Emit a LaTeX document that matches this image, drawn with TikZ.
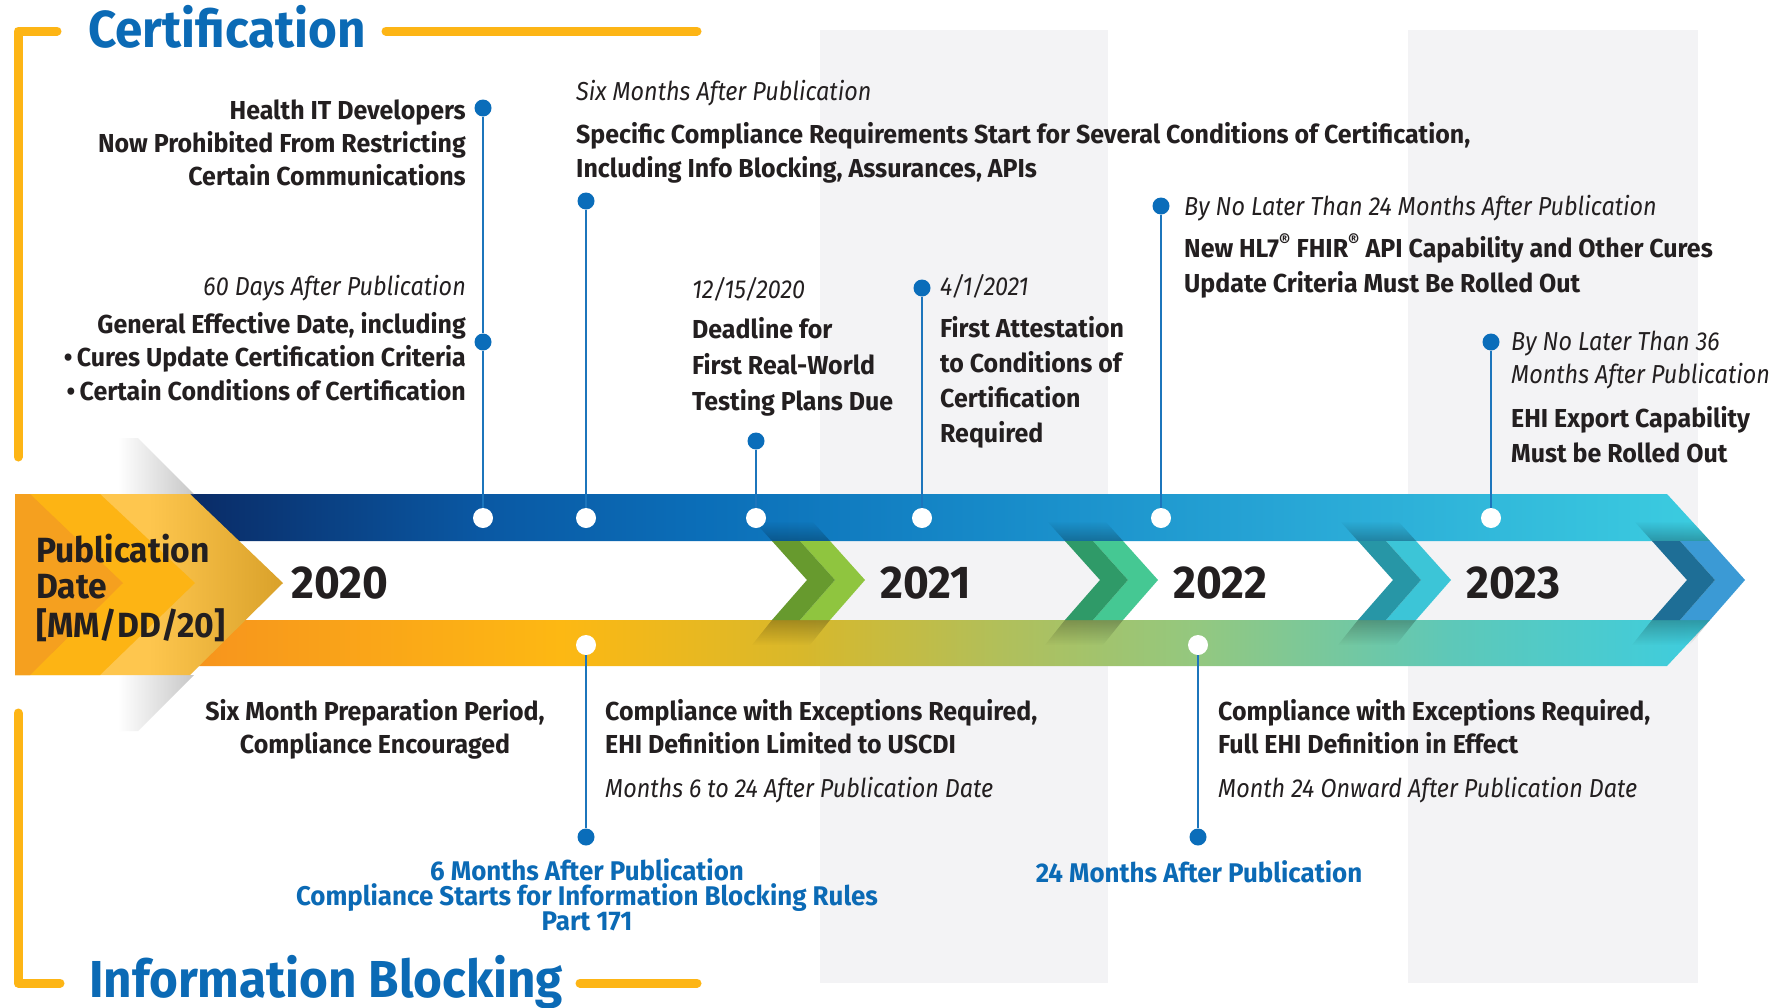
\documentclass[tikz,border=0pt]{standalone}
\usepackage{fontspec}
\setmainfont{Fira Sans}[FakeStretch=0.9, BoldFeatures={FakeStretch=0.96}]
\newfontfamily\titlefont{Fira Sans}[FakeStretch=0.95]
\usetikzlibrary{fadings}
\definecolor{txt}{HTML}{231F20}
\definecolor{ttlblue}{HTML}{0B6AB5}
\definecolor{stem}{HTML}{1C75BC}
\definecolor{dotblue}{HTML}{0A6DBA}
\definecolor{orng}{HTML}{FDB515}
\definecolor{stripe}{HTML}{F3F3F5}
\definecolor{pubL}{HTML}{F5A01F}
\definecolor{pubM}{HTML}{FDB414}
\definecolor{pubR}{HTML}{FEC64E}
\definecolor{pubTip}{HTML}{D9A12A}
\definecolor{g1d}{HTML}{679A2E}
\definecolor{g1l}{HTML}{8FC53F}
\definecolor{g2d}{HTML}{2F9A68}
\definecolor{g2l}{HTML}{45C893}
\definecolor{g3d}{HTML}{2796A6}
\definecolor{g3l}{HTML}{3CC5D7}
\definecolor{g4d}{HTML}{1E6E96}
\definecolor{g4l}{HTML}{3B9AD5}
\definecolor{tb0}{HTML}{0A2B66}
\definecolor{tb1}{HTML}{0A58A3}
\definecolor{tb2}{HTML}{0B6EB8}
\definecolor{tb3}{HTML}{178BC9}
\definecolor{tb4}{HTML}{28A7D6}
\definecolor{tb5}{HTML}{3CCDE0}
\definecolor{bb0}{HTML}{F7941D}
\definecolor{bb1}{HTML}{FDB813}
\definecolor{bb2}{HTML}{D8B82B}
\definecolor{bb3}{HTML}{B1BF5A}
\definecolor{bb4}{HTML}{93C880}
\definecolor{bb5}{HTML}{5EC8B8}
\definecolor{bb6}{HTML}{3CCDE0}
\pgfdeclarehorizontalshading{topband}{100bp}{color(0bp)=(tb0); color(25bp)=(tb0); color(34.5bp)=(tb1); color(41.8bp)=(tb2); color(51.6bp)=(tb3); color(61.5bp)=(tb4); color(75bp)=(tb5); color(100bp)=(tb5)}
\pgfdeclarehorizontalshading{botband}{100bp}{color(0bp)=(bb0); color(25bp)=(bb0); color(37.2bp)=(bb1); color(45.1bp)=(bb2); color(51.6bp)=(bb3); color(58.2bp)=(bb4); color(66.4bp)=(bb5); color(75bp)=(bb6); color(100bp)=(bb6)}
\pgfdeclarehorizontalshading{pubshade}{100bp}{color(0bp)=(pubR); color(50bp)=(pubR); color(75bp)=(pubTip); color(100bp)=(pubTip)}
\newcommand{\mylines}[2]{\begin{tabular}[t]{@{}#1@{}}#2\end{tabular}}
\newcommand{\yearchev}[3]{%
  \fill[black,opacity=0.25,path fading=north] (#1-111,521) -- (#1-53,521) -- (#1-35,541) -- (#1-93,541) -- cycle;
  \fill[black,opacity=0.25,path fading=south] (#1-93,620) -- (#1-35,620) -- (#1-55,645) -- (#1-113,645) -- cycle;
  \fill[#3] (#1-65,541) -- (#1-35,541) -- (#1,580) -- (#1-35,620) -- (#1-65,620) -- (#1-30,580) -- cycle;
  \fill[#2] (#1-93,541) -- (#1-65,541) -- (#1-30,580) -- (#1-65,620) -- (#1-93,620) -- (#1-58,580) -- cycle;
}
\tikzset{
  bracket/.style={orng, line width=9pt, line cap=round, line join=round},
  ttl/.style={inner sep=0pt, text=ttlblue, font=\titlefont\bfseries\fontsize{52}{52}\selectfont},
  lbl/.style={inner sep=0pt, text=txt, font=\bfseries\fontsize{26}{#1}\selectfont},
  lbl/.default=33,
  itl/.style={inner sep=0pt, text=txt, font=\itshape\fontsize{26}{#1}\selectfont},
  itl/.default=33,
  bluelbl/.style={inner sep=0pt, text=ttlblue, font=\bfseries\fontsize{27}{27}\selectfont},
  yearlbl/.style={inner sep=0pt, text=txt, font=\bfseries\fontsize{46}{46}\selectfont},
  bdot/.style={circle, fill=dotblue, inner sep=0pt, minimum size=17pt},
  wdot/.style={circle, fill=white, inner sep=0pt, minimum size=20pt},
  stemline/.style={stem, line width=2.4pt}
}
\begin{document}
\begin{tikzpicture}[x=1pt,y=-1pt]
\useasboundingbox (0,0) rectangle (1778,1007);
\fill[white] (0,0) rectangle (1778,1007);
% background stripes
\fill[stripe] (820,30) rectangle (1108,983);
\fill[stripe] (1408,30) rectangle (1698,983);
% brackets
\draw[bracket] (57,31) -- (18,31) -- (18,457);
\draw[bracket] (18,713) -- (18,983) -- (60,983);
\draw[bracket] (386,31) -- (697,31);
\draw[bracket] (580,983) -- (697,983);
% titles
\node[ttl, anchor=base west] (cert) at (88,47) {Certification};
\node[ttl, anchor=base west] (infob) at (89,997) {Information Blocking};
% bands
\shade[shading=topband] (190,494) -- (1667,494) -- (1710,541) -- (190,541) -- cycle;
\shade[shading=botband] (190,620) -- (1710,620) -- (1667,666) -- (190,666) -- cycle;
% chevrons
\yearchev{865}{g1d}{g1l}
\yearchev{1158}{g2d}{g2l}
\yearchev{1451}{g3d}{g3l}
\yearchev{1745}{g4d}{g4l}
% publication block shadows
\shade[left color=white, right color=black!22] (118,438) -- (138,438) -- (194,494) -- (118,494) -- cycle;
\shade[left color=white, right color=black!22] (118,675) -- (194,675) -- (138,731) -- (118,731) -- cycle;
% publication block
\shade[shading=pubshade] (15,494) -- (190,494) -- (283,583) -- (190,675) -- (15,675) -- cycle;
\fill[pubM] (15,494) -- (100,494) -- (195,583) -- (100,675) -- (15,675) -- cycle;
\fill[pubL] (15,494) -- (30,494) -- (123,583) -- (30,675) -- (15,675) -- cycle;
\node[inner sep=0pt, text=txt, font=\bfseries\fontsize{35}{36}\selectfont, anchor=base west] (pub) at (36,562) {\mylines{l}{Publication\\Date\\{}[MM/DD/20]}};
% years
\node[yearlbl, anchor=base west] (y2020) at (291,598) {2020};
\node[yearlbl, anchor=base west] (y2021) at (880,598) {2021};
\node[yearlbl, anchor=base west] (y2022) at (1173,598) {2022};
\node[yearlbl, anchor=base west] (y2023) at (1466,598) {2023};
% dots and stems (top)
\node[bdot] (b1) at (483,108) {};
\node[bdot] (b2) at (483,342) {};
\node[wdot] (w1) at (483,518) {};
\draw[stemline] (b1) -- (b2) -- (w1);
\node[bdot] (b3) at (586,201) {};
\node[wdot] (w2) at (586,518) {};
\draw[stemline] (b3) -- (w2);
\node[bdot] (b4) at (756,441) {};
\node[wdot] (w3) at (756,518) {};
\draw[stemline] (b4) -- (w3);
\node[bdot] (b5) at (922,288) {};
\node[wdot] (w4) at (922,518) {};
\draw[stemline] (b5) -- (w4);
\node[bdot] (b6) at (1161,206) {};
\node[wdot] (w5) at (1161,518) {};
\draw[stemline] (b6) -- (w5);
\node[bdot] (b7) at (1491,342) {};
\node[wdot] (w6) at (1491,518) {};
\draw[stemline] (b7) -- (w6);
% dots and stems (bottom)
\node[wdot] (w7) at (586,645) {};
\node[bdot] (b8) at (586,837) {};
\draw[stemline] (w7) -- (b8);
\node[wdot] (w8) at (1198,645) {};
\node[bdot] (b9) at (1198,837) {};
\draw[stemline] (w8) -- (b9);
% top texts
\node[lbl, anchor=base east] (t1) at (466,119) {\mylines{r}{Health IT Developers\\Now Prohibited From Restricting\\Certain Communications}};
\node[itl, anchor=base east] (t2a) at (466,295) {60 Days After Publication};
\node[lbl=33.5, anchor=base east] (t2b) at (466,333) {\mylines{r}{General Effective Date, including\\•\,Cures Update Certification Criteria\\•\,Certain Conditions of Certification}};
\node[itl, anchor=base west] (t3a) at (576,100) {Six Months After Publication};
\node[lbl=34, anchor=base west] (t3b) at (576,143) {\mylines{l}{Specific Compliance Requirements Start for Several Conditions of Certification,\\Including Info Blocking, Assurances, APIs}};
\node[itl, anchor=base west] (t4a) at (692,298) {12/15/2020};
\node[lbl=36, anchor=base west] (t4b) at (692,338) {\mylines{l}{Deadline for\\First Real-World\\Testing Plans Due}};
\node[itl, anchor=base west] (t5a) at (940,295) {4/1/2021};
\node[lbl=35, anchor=base west] (t5b) at (940,337) {\mylines{l}{First Attestation\\to Conditions of\\Certification\\Required}};
\node[itl, anchor=base west] (t6a) at (1184,215) {By No Later Than 24 Months After Publication};
\node[lbl=35, anchor=base west] (t6b) at (1184,257) {\mylines{l}{New HL7\textsuperscript{®} FHIR\textsuperscript{®} API Capability and Other Cures\\Update Criteria Must Be Rolled Out}};
\node[itl, anchor=base west] (t7a) at (1511,350) {\mylines{l}{By No Later Than 36\\Months After Publication}};
\node[lbl=35, anchor=base west] (t7b) at (1511,427) {\mylines{l}{EHI Export Capability\\Must be Rolled Out}};
% bottom texts
\node[lbl, anchor=base] (bt1) at (375,720) {\mylines{c}{Six Month Preparation Period,\\Compliance Encouraged}};
\node[lbl, anchor=base west] (bt2) at (605,720) {\mylines{l}{Compliance with Exceptions Required,\\EHI Definition Limited to USCDI}};
\node[itl, anchor=base west] (bt2i) at (605,797) {Months 6 to 24 After Publication Date};
\node[lbl, anchor=base west] (bt3) at (1218,720) {\mylines{l}{Compliance with Exceptions Required,\\Full EHI Definition in Effect}};
\node[itl, anchor=base west] (bt3i) at (1218,797) {Month 24 Onward After Publication Date};
\node[bluelbl, anchor=base] (bl1) at (587,880) {6 Months After Publication};
\node[bluelbl, anchor=base] (bl2) at (587,905) {Compliance Starts for Information Blocking Rules};
\node[bluelbl, anchor=base] (bl3) at (587,930) {Part 171};
\node[bluelbl, anchor=base] (bl4) at (1199,882) {24 Months After Publication};
\end{tikzpicture}
\end{document}
